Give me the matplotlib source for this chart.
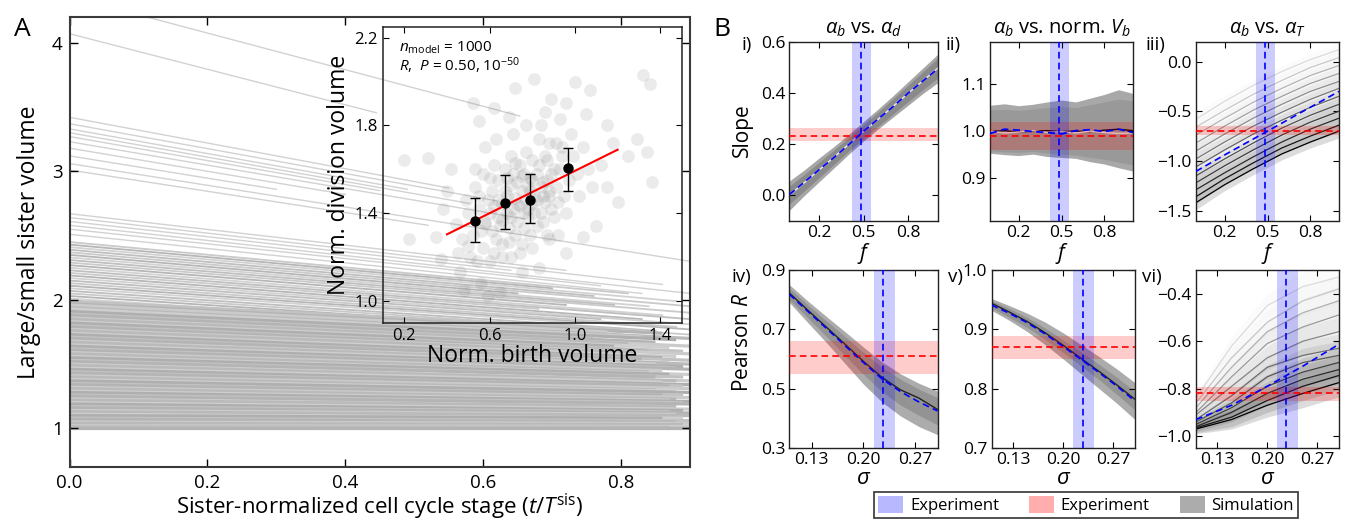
import matplotlib
matplotlib.use("Agg")
import matplotlib.pyplot as plt
from matplotlib.patches import Patch

plt.rcParams["font.family"] = ["Open Sans", "DejaVu Sans"]
plt.rcParams["mathtext.fontset"] = "custom"
plt.rcParams["mathtext.rm"] = "Open Sans"
plt.rcParams["mathtext.it"] = "Open Sans:italic"
plt.rcParams["mathtext.bf"] = "Open Sans:bold"

# ---------------- panel A: sister volume ratio traces ----------------
# sparse upper traces: start value at t=0, end stage, end value
top_y0 = [4.36, 4.07, 3.42, 3.37, 3.33, 3.30, 3.27, 3.23, 3.18, 3.12, 3.06, 3.01,
          2.67, 2.64, 2.61, 2.58, 2.55, 2.51]
top_x1 = [0.653, 0.445, 0.55, 0.62, 0.49, 0.58, 0.45, 0.66, 0.40, 0.30, 0.90, 0.52,
          0.72, 0.86, 0.64, 0.90, 0.77, 0.83]
top_y1 = [3.43, 3.455, 2.87, 2.77, 2.86, 2.75, 2.85, 2.63, 2.82, 2.86, 2.30, 2.58,
          2.23, 2.12, 2.23, 2.05, 2.11, 2.05]

mid_y0 = [2.45, 2.43, 2.41, 2.39, 2.37, 2.35, 2.33, 2.31, 2.29, 2.27, 2.25, 2.23,
          2.21, 2.19, 2.17, 2.15, 2.13, 2.11, 2.09, 2.07, 2.05, 2.03, 2.01]
mid_x1 = [0.81, 0.70, 0.88, 0.76, 0.90, 0.65, 0.84, 0.79, 0.90, 0.72, 0.86, 0.90,
          0.68, 0.83, 0.90, 0.77, 0.88, 0.90, 0.74, 0.85, 0.90, 0.80, 0.89]
mid_y1 = [2.05, 2.09, 1.99, 2.03, 1.95, 2.05, 1.95, 1.96, 1.90, 1.96, 1.88, 1.85,
          1.93, 1.85, 1.81, 1.85, 1.79, 1.77, 1.82, 1.76, 1.73, 1.75, 1.70]

dense_y0 = [1.99, 1.97, 1.96, 1.94, 1.93, 1.91, 1.89, 1.88, 1.86, 1.85, 1.83, 1.82,
            1.80, 1.79, 1.77, 1.76, 1.74, 1.73, 1.71, 1.70, 1.68, 1.67, 1.65, 1.64,
            1.62, 1.61, 1.59, 1.58, 1.56, 1.55, 1.53, 1.52, 1.50, 1.49, 1.47, 1.46,
            1.44, 1.43, 1.41, 1.40, 1.38, 1.37, 1.35, 1.34, 1.32, 1.31, 1.29, 1.28,
            1.26, 1.25, 1.23, 1.22, 1.20, 1.19, 1.17, 1.16, 1.14, 1.13, 1.11, 1.10,
            1.08, 1.07, 1.05, 1.04, 1.02, 1.01, 1.005, 1.0]
dense_x1 = [0.80, 0.86, 0.78, 0.90, 0.83, 0.88, 0.76, 0.85, 0.90, 0.81, 0.87, 0.79,
            0.89, 0.84, 0.90, 0.82, 0.88, 0.86, 0.90, 0.83, 0.87, 0.90, 0.85, 0.89,
            0.88, 0.90, 0.86, 0.84, 0.90, 0.87, 0.89, 0.85, 0.90, 0.88, 0.86, 0.90,
            0.89, 0.87, 0.90, 0.85, 0.88, 0.90, 0.89, 0.86, 0.90, 0.88, 0.87, 0.90,
            0.89, 0.90, 0.86, 0.88, 0.90, 0.89, 0.87, 0.90, 0.88, 0.90, 0.89, 0.86,
            0.90, 0.88, 0.90, 0.89, 0.90, 0.87, 0.90, 0.90]
dense_y1 = [1.77, 1.74, 1.75, 1.70, 1.71, 1.69, 1.70, 1.67, 1.64, 1.66, 1.63, 1.64,
            1.60, 1.60, 1.58, 1.59, 1.56, 1.55, 1.53, 1.54, 1.51, 1.50, 1.50, 1.48,
            1.47, 1.46, 1.45, 1.44, 1.42, 1.42, 1.40, 1.40, 1.37, 1.37, 1.36, 1.34,
            1.33, 1.33, 1.31, 1.30, 1.29, 1.28, 1.26, 1.26, 1.24, 1.23, 1.22, 1.21,
            1.20, 1.19, 1.17, 1.17, 1.15, 1.14, 1.13, 1.12, 1.11, 1.10, 1.08, 1.08,
            1.06, 1.05, 1.04, 1.03, 1.015, 1.008, 1.004, 1.0]

a_xticks = [0.0, 0.2, 0.4, 0.6, 0.8]
a_yticks = [1, 2, 3, 4]

# ---------------- inset: birth vs division volume ----------------
sim_x = [0.20, 0.31, 0.22, 0.35, 1.32, 1.35, 1.29, 1.36, 1.34, 1.25, 0.81, 0.72, 1.00,
         1.07, 0.89, 1.10, 1.04, 0.96, 0.83, 0.75, 0.56, 0.46, 0.37, 0.65, 0.59, 0.48,
         0.52, 0.62, 0.55, 0.96, 0.93, 1.05, 1.15, 1.18, 1.12, 1.15, 1.20, 0.40, 0.42,
         0.38, 0.44, 0.50, 0.60, 0.70, 0.88,
         0.52, 0.55, 0.58, 0.61, 0.63, 0.66, 0.68, 0.70, 0.72, 0.74, 0.76, 0.78, 0.80,
         0.82, 0.84, 0.86, 0.88, 0.90, 0.92, 0.94,
         0.50, 0.53, 0.57, 0.60, 0.62, 0.65, 0.67, 0.69, 0.71, 0.73, 0.75, 0.77, 0.79,
         0.81, 0.83, 0.85, 0.87, 0.89, 0.91, 0.97,
         0.54, 0.56, 0.59, 0.62, 0.64, 0.66, 0.68, 0.70, 0.72, 0.74, 0.76, 0.78, 0.80,
         0.82, 0.84, 0.86, 0.88, 0.90, 0.93, 0.99,
         0.47, 0.49, 0.51, 0.60, 0.64, 0.67, 0.69, 0.71, 0.73, 0.75, 0.77, 0.79, 0.81,
         0.83, 0.85, 0.87, 0.89, 0.95, 1.01, 1.04,
         0.45, 0.53, 0.58, 0.63, 0.66, 0.71, 0.74, 0.77, 0.80, 0.84, 0.92, 0.96, 1.02,
         1.06, 1.08, 0.98, 0.69, 0.86, 0.57, 0.61,
         0.64, 0.73, 0.79, 0.85, 0.68, 0.76, 0.82, 0.58, 0.91, 0.70, 0.62, 0.87, 0.75,
         0.66, 0.80, 0.72, 0.94, 0.55, 0.78, 0.88]
sim_y = [1.64, 1.65, 1.28, 1.29, 2.03, 1.99, 1.74, 1.54, 1.68, 1.66, 2.01, 1.97, 2.00,
         1.96, 1.92, 1.34, 1.29, 1.22, 1.15, 1.13, 1.08, 1.13, 1.19, 1.04, 1.02, 1.05,
         1.90, 1.88, 1.82, 1.90, 1.83, 1.85, 1.80, 1.72, 1.62, 1.52, 1.45, 1.50, 1.60,
         1.42, 1.35, 1.25, 1.18, 1.20, 1.28,
         1.30, 1.42, 1.36, 1.50, 1.28, 1.44, 1.56, 1.38, 1.47, 1.62, 1.33, 1.52, 1.44,
         1.58, 1.40, 1.66, 1.50, 1.60, 1.45, 1.70,
         1.40, 1.52, 1.24, 1.40, 1.62, 1.34, 1.50, 1.27, 1.58, 1.36, 1.50, 1.68, 1.30,
         1.48, 1.74, 1.36, 1.55, 1.42, 1.72, 1.55,
         1.18, 1.32, 1.46, 1.22, 1.55, 1.26, 1.40, 1.66, 1.30, 1.43, 1.58, 1.38, 1.64,
         1.34, 1.52, 1.45, 1.72, 1.38, 1.60, 1.66,
         1.28, 1.46, 1.20, 1.56, 1.46, 1.60, 1.33, 1.42, 1.54, 1.26, 1.46, 1.56, 1.40,
         1.62, 1.48, 1.30, 1.58, 1.48, 1.58, 1.70,
         1.22, 1.60, 1.70, 1.74, 1.20, 1.76, 1.22, 1.80, 1.24, 1.80, 1.30, 1.40, 1.48,
         1.60, 1.52, 1.76, 1.84, 1.86, 1.58, 1.32,
         1.38, 1.44, 1.50, 1.54, 1.48, 1.40, 1.46, 1.35, 1.52, 1.53, 1.43, 1.64, 1.57,
         1.37, 1.55, 1.63, 1.66, 1.48, 1.42, 1.48]

bin_x = [0.530, 0.674, 0.791, 0.968]
bin_y = [1.364, 1.447, 1.459, 1.605]
bin_top = [1.471, 1.573, 1.579, 1.695]
bin_bot = [1.268, 1.329, 1.354, 1.500]
fit_x = [0.40, 1.20]
fit_y = [1.303, 1.689]

# ---------------- panel B ----------------
f_grid = [0.0, 0.1, 0.2, 0.3, 0.4, 0.5, 0.6, 0.7, 0.8, 0.9, 1.0]
sig_grid = [0.10, 0.125, 0.15, 0.175, 0.20, 0.225, 0.25, 0.275, 0.30]

# i) slope of a_b vs a_d
i_out_lo = [-0.060, -0.002, 0.052, 0.106, 0.160, 0.212, 0.260, 0.306, 0.352, 0.398, 0.440]
i_out_hi = [0.055, 0.098, 0.145, 0.190, 0.238, 0.288, 0.338, 0.390, 0.444, 0.498, 0.552]
i_in_lo = [-0.035, 0.016, 0.068, 0.120, 0.172, 0.222, 0.270, 0.318, 0.366, 0.413, 0.458]
i_in_hi = [0.035, 0.080, 0.128, 0.176, 0.226, 0.276, 0.326, 0.378, 0.430, 0.483, 0.536]
i_mid = [0.000, 0.048, 0.098, 0.148, 0.199, 0.249, 0.298, 0.348, 0.398, 0.448, 0.497]
i_model = [0.002, 0.050, 0.099, 0.147, 0.198, 0.250, 0.299, 0.347, 0.399, 0.447, 0.495]

# ii) slope of a_b vs norm. V_b
ii_out_lo = [0.953, 0.950, 0.948, 0.951, 0.946, 0.944, 0.942, 0.935, 0.930, 0.922, 0.915]
ii_out_hi = [1.055, 1.058, 1.054, 1.057, 1.062, 1.066, 1.062, 1.070, 1.078, 1.088, 1.080]
ii_in_lo = [0.958, 0.956, 0.955, 0.957, 0.953, 0.951, 0.949, 0.944, 0.940, 0.934, 0.928]
ii_in_hi = [1.045, 1.046, 1.044, 1.047, 1.050, 1.052, 1.050, 1.056, 1.062, 1.068, 1.064]
ii_white = [1.000, 0.996, 0.998, 1.001, 0.997, 0.999, 0.996, 1.000, 0.997, 0.995, 0.996]
ii_black = [0.999, 1.001, 0.998, 1.000, 1.001, 0.999, 1.000, 0.999, 1.002, 1.004, 1.001]
ii_model = [0.995, 1.004, 1.002, 0.999, 0.997, 0.994, 1.001, 1.003, 0.999, 1.004, 0.997]

# iii) slope of a_b vs a_T, one trace per simulated parameter value
iii_f = [0.0, 0.2, 0.4, 0.6, 0.8, 1.0]
iii_lines = [
    [-0.58, -0.40, -0.24, -0.10, 0.02, 0.12],
    [-0.66, -0.49, -0.33, -0.19, -0.06, 0.04],
    [-0.74, -0.57, -0.41, -0.27, -0.14, -0.04],
    [-0.82, -0.65, -0.49, -0.35, -0.22, -0.12],
    [-0.90, -0.73, -0.57, -0.43, -0.30, -0.20],
    [-0.98, -0.81, -0.65, -0.51, -0.38, -0.27],
    [-1.06, -0.89, -0.73, -0.59, -0.46, -0.35],
    [-1.15, -0.98, -0.82, -0.67, -0.54, -0.43],
    [-1.22, -1.05, -0.89, -0.74, -0.61, -0.50],
    [-1.29, -1.12, -0.96, -0.81, -0.68, -0.57],
    [-1.36, -1.18, -1.02, -0.87, -0.75, -0.64],
    [-1.42, -1.24, -1.08, -0.93, -0.81, -0.70],
]
iii_spread = [0.07, 0.06, 0.06, 0.06, 0.06, 0.07]
iii_model = [-1.105, -0.94, -0.78, -0.62, -0.46, -0.30]

# iv) Pearson R of a_b vs a_d
iv_out_lo = [0.790, 0.722, 0.655, 0.585, 0.515, 0.455, 0.408, 0.372, 0.345]
iv_out_hi = [0.850, 0.795, 0.743, 0.692, 0.640, 0.590, 0.550, 0.518, 0.492]
iv_in_lo = [0.800, 0.738, 0.676, 0.612, 0.548, 0.490, 0.445, 0.410, 0.378]
iv_in_hi = [0.838, 0.782, 0.728, 0.676, 0.622, 0.572, 0.532, 0.498, 0.470]
iv_black = [0.822, 0.764, 0.707, 0.650, 0.592, 0.538, 0.496, 0.468, 0.430]
iv_model = [0.818, 0.760, 0.703, 0.645, 0.588, 0.533, 0.490, 0.455, 0.425]

# v) Pearson R of a_b vs norm. V_b
v_out_lo = [0.932, 0.915, 0.896, 0.874, 0.850, 0.825, 0.800, 0.775, 0.748]
v_out_hi = [0.952, 0.940, 0.927, 0.912, 0.894, 0.874, 0.854, 0.833, 0.810]
v_in_lo = [0.936, 0.920, 0.903, 0.883, 0.861, 0.838, 0.815, 0.790, 0.764]
v_in_hi = [0.948, 0.935, 0.920, 0.902, 0.882, 0.862, 0.841, 0.819, 0.795]
v_black = [0.944, 0.929, 0.913, 0.894, 0.873, 0.851, 0.829, 0.806, 0.782]
v_model = [0.941, 0.927, 0.911, 0.892, 0.871, 0.849, 0.827, 0.804, 0.779]

# vi) Pearson R of a_b vs a_T
vi_sig = [0.10, 0.15, 0.20, 0.25, 0.30]
vi_lines = [
    [-0.84, -0.62, -0.45, -0.37, -0.33],
    [-0.86, -0.67, -0.52, -0.43, -0.38],
    [-0.88, -0.71, -0.56, -0.48, -0.43],
    [-0.90, -0.75, -0.61, -0.54, -0.49],
    [-0.91, -0.79, -0.67, -0.60, -0.56],
    [-0.93, -0.83, -0.71, -0.66, -0.63],
    [-0.94, -0.86, -0.75, -0.69, -0.66],
    [-0.95, -0.88, -0.79, -0.73, -0.69],
    [-0.96, -0.90, -0.82, -0.76, -0.72],
    [-0.965, -0.92, -0.85, -0.79, -0.745],
    [-0.97, -0.93, -0.87, -0.82, -0.775],
]
vi_spread = [0.02, 0.04, 0.05, 0.06, 0.06]
vi_model = [-0.930, -0.870, -0.790, -0.705, -0.614]

# experiment (value, low, high): blue = parameter estimate, red = measured statistic
f_exp = (0.48, 0.42, 0.55)
sig_exp = (0.227, 0.214, 0.243)
red_exp = {
    "i": (0.232, 0.212, 0.264),
    "ii": (0.990, 0.959, 1.020),
    "iii": (-0.70, -0.74, -0.65),
    "iv": (0.610, 0.550, 0.661),
    "v": (0.870, 0.850, 0.889),
    "vi": (-0.820, -0.850, -0.792),
}

# ============================================================
W, H = 1349, 521


def box(l, t, r, b):
    return [l / W, 1 - b / H, (r - l) / W, (b - t) / H]


fig = plt.figure(figsize=(W / 100, H / 100), dpi=100)

# ---------------- panel A ----------------
axA = fig.add_axes(box(69.5, 17, 690, 467))
for y0, x1, y1 in zip(top_y0, top_x1, top_y1):
    axA.plot([0, x1], [y0, y1], color="#d2d2d2", lw=1.0, zorder=1)
mid_cols = ["#cacaca", "#b6b6b6", "#d2d2d2", "#bfbfbf"]
for k, (y0, x1, y1) in enumerate(zip(mid_y0, mid_x1, mid_y1)):
    axA.plot([0, x1], [y0, y1], color=mid_cols[k % 4], lw=1.3, zorder=1)
dense_cols = ["#c2c2c2", "#b4b4b4", "#cbcbcb", "#bababa", "#cecece", "#afafaf"]
for k, (y0, x1, y1) in enumerate(zip(dense_y0, dense_x1, dense_y1)):
    axA.plot([0, x1], [y0, y1], color=dense_cols[k % 6], lw=2.3, zorder=1,
             solid_capstyle="butt")
axA.set_xlim(0, 0.9)
axA.set_ylim(0.7, 4.2)
axA.set_xticks(a_xticks)
axA.set_xticklabels([f"{v:.1f}" for v in a_xticks])
axA.set_yticks(a_yticks)
axA.set_yticklabels([str(v) for v in a_yticks])
axA.tick_params(direction="in", top=True, right=True, length=6, width=1,
                labelsize=13.5, pad=5)
for s in axA.spines.values():
    s.set_linewidth(1.5)
    s.set_color("#3a3a3a")
axA.set_xlabel(r"Sister-normalized cell cycle stage ($t/T^{\rm sis}$)", fontsize=16, labelpad=0)
axA.set_ylabel("Large/small sister volume", fontsize=16.5, labelpad=8)

# inset
axI = fig.add_axes(box(383, 26.7, 681.6, 322.7))
axI.patch.set_alpha(0)
axI.scatter(sim_x, sim_y, s=85, color="#777777", alpha=0.14, lw=0, zorder=1)
axI.plot(fit_x, fit_y, color="red", lw=1.5, zorder=3)
axI.errorbar(bin_x, bin_y,
             yerr=[[y - b for y, b in zip(bin_y, bin_bot)], [t - y for y, t in zip(bin_y, bin_top)]],
             fmt="o", color="black", ms=6.5, capsize=3.5, elinewidth=1, capthick=1, zorder=4)
axI.set_xlim(0.1, 1.5)
axI.set_ylim(0.9, 2.25)
axI.set_xticks([0.2, 0.6, 1.0, 1.4])
axI.set_yticks([1.0, 1.4, 1.8, 2.2])
axI.set_xticklabels(["0.2", "0.6", "1.0", "1.4"])
axI.set_yticklabels(["1.0", "1.4", "1.8", "2.2"])
axI.tick_params(direction="in", top=True, right=True, length=4, width=0.8,
                labelsize=12, pad=4)
for s in axI.spines.values():
    s.set_linewidth(1.1)
    s.set_color("#222222")
axI.set_xlabel("Norm. birth volume", fontsize=16.5, labelpad=0)
axI.set_ylabel("Norm. division volume", fontsize=16.5, labelpad=2)
axI.text(0.054, 0.928, r"$n_{\rm model}$ = 1000", transform=axI.transAxes,
         fontsize=11, va="center")
axI.text(0.054, 0.868, r"$R$,  $P$ = 0.50, 10$^{-50}$", transform=axI.transAxes,
         fontsize=11, va="center")

fig.text(22 / W, 1 - 30 / H, "A", fontsize=19, ha="center", va="center")
fig.text(722 / W, 1 - 30 / H, "B", fontsize=19, ha="center", va="center")

# ---------------- panel B ----------------
DASH = (0, (4, 2.5))


def style_b(ax, xlim, xticks, xlabels, ylim, yticks, ylabels):
    ax.set_xlim(*xlim)
    ax.set_ylim(*ylim)
    ax.set_xticks(xticks)
    ax.set_xticklabels(xlabels)
    ax.set_yticks(yticks)
    ax.set_yticklabels(ylabels)
    ax.tick_params(direction="in", top=True, right=True, length=4, width=0.8,
                   labelsize=12.5, pad=3)
    for s in ax.spines.values():
        s.set_linewidth(1.0)
        s.set_color("#222222")


def experiment(ax, xexp, yexp):
    ax.axhspan(yexp[1], yexp[2], color="red", alpha=0.2, lw=0, zorder=3)
    ax.axvspan(xexp[1], xexp[2], color="blue", alpha=0.2, lw=0, zorder=3)
    ax.axhline(yexp[0], color="red", ls=DASH, lw=1.2, zorder=6)
    ax.axvline(xexp[0], color="blue", ls=DASH, lw=1.2, zorder=6)


f_ticks = ([0.2, 0.5, 0.8], ["0.2", "0.5", "0.8"])
s_ticks = ([0.13, 0.20, 0.27], ["0.13", "0.20", "0.27"])


def minus(v, fmt):
    return (fmt % v).replace("-", "\u2212")


col = [(789.5, 938), (990, 1133), (1196, 1339)]
row = [(41.7, 220.5), (270, 448)]

# i
ax = fig.add_axes(box(col[0][0], row[0][0], col[0][1], row[0][1]))
ax.fill_between(f_grid, i_out_lo, i_out_hi, color="#a6a6a6", lw=0, zorder=1)
ax.fill_between(f_grid, i_in_lo, i_in_hi, color="#8a8a8a", lw=0, zorder=1)
ax.plot(f_grid, i_mid, color="#e8e8e8", lw=1.0, zorder=2)
experiment(ax, f_exp, red_exp["i"])
ax.plot(f_grid, i_model, color="blue", ls=DASH, lw=1.2, zorder=7)
style_b(ax, (0, 1), *f_ticks, (-0.1, 0.6), [0.0, 0.2, 0.4, 0.6], ["0.0", "0.2", "0.4", "0.6"])
ax.set_title(r"$\alpha_b$ vs. $\alpha_d$", fontsize=14.5, pad=6)
ax.set_xlabel(r"$f$", fontsize=15.5, labelpad=0)

# ii
ax = fig.add_axes(box(col[1][0], row[0][0], col[1][1], row[0][1]))
ax.fill_between(f_grid, ii_out_lo, ii_out_hi, color="#a8a8a8", lw=0, zorder=1)
ax.fill_between(f_grid, ii_in_lo, ii_in_hi, color="#999999", lw=0, zorder=1)
ax.plot(f_grid, ii_black, color="black", lw=1.0, zorder=2)
ax.plot(f_grid, ii_white, color="#e6e6e6", lw=1.0, zorder=2)
experiment(ax, f_exp, red_exp["ii"])
ax.plot(f_grid, ii_model, color="blue", ls=DASH, lw=1.3, zorder=7)
style_b(ax, (0, 1), *f_ticks, (0.81, 1.19), [0.9, 1.0, 1.1], ["0.9", "1.0", "1.1"])
ax.set_title(r"$\alpha_b$ vs. norm. $V_b$", fontsize=14.5, pad=6)
ax.set_xlabel(r"$f$", fontsize=15.5, labelpad=0)

# iii
ax = fig.add_axes(box(col[2][0], row[0][0], col[2][1], row[0][1]))
n = len(iii_lines)
for k, ys in enumerate(iii_lines):
    g = 0.86 * (1 - k / (n - 1))
    ax.fill_between(iii_f, [y - w for y, w in zip(ys, iii_spread)],
                    [y + w for y, w in zip(ys, iii_spread)],
                    color=str(min(0.92, g + 0.15)), alpha=0.16, lw=0, zorder=1)
for k, ys in enumerate(iii_lines):
    g = 0.86 * (1 - k / (n - 1))
    ax.plot(iii_f, ys, color=str(g), lw=0.9, zorder=2)
experiment(ax, f_exp, red_exp["iii"])
ax.plot(iii_f, iii_model, color="blue", ls=DASH, lw=1.2, zorder=7)
style_b(ax, (0, 1), *f_ticks, (-1.6, 0.2), [-1.5, -1.0, -0.5, 0.0],
        [minus(v, "%.1f") for v in [-1.5, -1.0, -0.5, 0.0]])
ax.set_title(r"$\alpha_b$ vs. $\alpha_T$", fontsize=14.5, pad=6)
ax.set_xlabel(r"$f$", fontsize=15.5, labelpad=0)

# iv
ax = fig.add_axes(box(789.5, row[1][0], 937.5, row[1][1]))
ax.fill_between(sig_grid, iv_out_lo, iv_out_hi, color="#acacac", lw=0, zorder=1)
ax.fill_between(sig_grid, iv_in_lo, iv_in_hi, color="#939393", lw=0, zorder=1)
ax.plot(sig_grid, iv_black, color="#222222", lw=1.0, zorder=2)
experiment(ax, sig_exp, red_exp["iv"])
ax.plot(sig_grid, iv_model, color="blue", ls=DASH, lw=1.2, zorder=7)
style_b(ax, (0.1, 0.3), *s_ticks, (0.3, 0.9), [0.3, 0.5, 0.7, 0.9], ["0.3", "0.5", "0.7", "0.9"])
ax.set_xlabel(r"$\sigma$", fontsize=16, labelpad=0)

# v
ax = fig.add_axes(box(991.5, row[1][0], 1135, row[1][1]))
ax.fill_between(sig_grid, v_out_lo, v_out_hi, color="#acacac", lw=0, zorder=1)
ax.fill_between(sig_grid, v_in_lo, v_in_hi, color="#939393", lw=0, zorder=1)
ax.plot(sig_grid, v_black, color="#222222", lw=1.0, zorder=2)
experiment(ax, sig_exp, red_exp["v"])
ax.plot(sig_grid, v_model, color="blue", ls=DASH, lw=1.2, zorder=7)
style_b(ax, (0.1, 0.3), *s_ticks, (0.7, 1.0), [0.7, 0.8, 0.9, 1.0], ["0.7", "0.8", "0.9", "1.0"])
ax.set_xlabel(r"$\sigma$", fontsize=16, labelpad=0)

# vi
ax = fig.add_axes(box(1196, row[1][0], 1338.5, row[1][1]))
n = len(vi_lines)
for k, ys in enumerate(vi_lines):
    g = 0.86 * (1 - k / (n - 1))
    ax.fill_between(vi_sig, [y - w for y, w in zip(ys, vi_spread)],
                    [y + w for y, w in zip(ys, vi_spread)],
                    color=str(min(0.92, g + 0.15)), alpha=0.16, lw=0, zorder=1)
for k, ys in enumerate(vi_lines):
    g = 0.86 * (1 - k / (n - 1))
    ax.plot(vi_sig, ys, color=str(g), lw=0.9, zorder=2)
experiment(ax, sig_exp, red_exp["vi"])
ax.plot(vi_sig, vi_model, color="blue", ls=DASH, lw=1.2, zorder=7)
style_b(ax, (0.1, 0.3), *s_ticks, (-1.05, -0.3), [-1.0, -0.8, -0.6, -0.4],
        [minus(v, "%.1f") for v in [-1.0, -0.8, -0.6, -0.4]])
ax.set_xlabel(r"$\sigma$", fontsize=16, labelpad=0)

# roman numerals and row labels
for txt, x, y in [("i)", 747, 45), ("ii)", 953, 45), ("iii)", 1155, 45),
                  ("iv)", 741, 277), ("v)", 955, 277), ("vi)", 1152, 277)]:
    fig.text(x / W, 1 - y / H, txt, fontsize=13.5, ha="center", va="center")
fig.text(742 / W, 1 - 130 / H, "Slope", fontsize=15, rotation=90, ha="center", va="center")
fig.text(742 / W, 1 - 342 / H, r"Pearson $R$", fontsize=15, rotation=90, ha="center", va="center")

handles = [Patch(facecolor="blue", alpha=0.28, edgecolor="none", label="Experiment"),
           Patch(facecolor="red", alpha=0.32, edgecolor="none", label="Experiment"),
           Patch(facecolor="#acacac", edgecolor="none", label="Simulation")]
leg = fig.legend(handles=handles, loc="center", bbox_to_anchor=(1086 / W, 1 - 505 / H),
                 ncol=3, frameon=True, fancybox=False, edgecolor="black", fontsize=12,
                 handlelength=1.5, handleheight=1.2, columnspacing=1.8,
                 handletextpad=0.4, borderpad=0.25, borderaxespad=0)
leg.get_frame().set_linewidth(1.2)

fig.savefig("out.png", dpi=100)
